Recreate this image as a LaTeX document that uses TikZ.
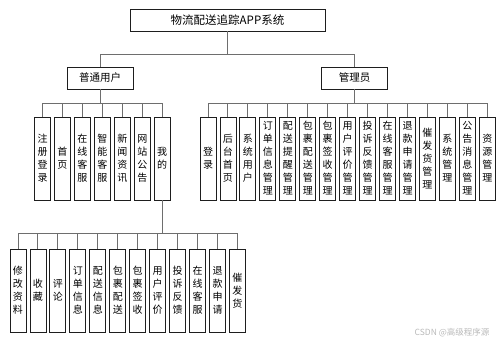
\documentclass[tikz,border=0pt]{standalone}
\usepackage{fontspec}
\setmainfont{Noto Sans CJK SC}
\usetikzlibrary{positioning}
\definecolor{linkgray}{RGB}{110,110,110}
\definecolor{boxline}{RGB}{30,30,30}

\begin{document}
\begin{tikzpicture}[
            x=1pt, y=1pt,
            node distance=3.95pt,
            rootbox/.style={draw=boxline, line width=0.9pt, minimum width=195pt, minimum height=22pt, inner sep=0pt, font=\fontsize{11.5}{13}\selectfont},
            rolebox/.style={draw=boxline, line width=0.9pt, minimum width=66pt, minimum height=22pt, inner sep=0pt, font=\fontsize{10.5}{13}\selectfont},
            funcbox/.style={draw=boxline, line width=0.9pt, outer sep=0pt, text width=11pt, inner xsep=2.5pt, inner ysep=2pt, minimum height=83pt, align=center, anchor=north, font=\fontsize{10}{13}\selectfont},
            link/.style={draw=linkgray, line width=1pt}
        ]
            \useasboundingbox (0,0) rectangle (502,-345);

            \node[rootbox] (app) at (227.5,-20) {物流配送追踪APP系统};
            \node[rolebox] (user) at (100,-78) {普通用户};
            \node[rolebox] (admin) at (354.5,-78) {管理员};

            \draw[link] (app.south) -- ++(0,-23) -| (user.north);
            \draw[link] (app.south) -- ++(0,-23) -| (admin.north);

            % user side
            \node[funcbox] (reg) at (42.5,-117) {注\\册\\登\\录};
            \node[funcbox, right=of reg] (home) {首\\页};
            \node[funcbox, right=of home] (chat) {在\\线\\客\\服};
            \node[funcbox, right=of chat] (aichat) {智\\能\\客\\服};
            \node[funcbox, right=of aichat] (news) {新\\闻\\资\\讯};
            \node[funcbox, right=of news] (notice) {网\\站\\公\\告};
            \node[funcbox, right=of notice] (mine) {我\\的};

            \foreach \k in {reg,home,chat,aichat,news,notice,mine}
                \draw[link] (user.south) -- ++(0,-14) -| (\k.north);

            % admin side
            \node[funcbox] (login) at (208,-117) {登\\录};
            \node[funcbox, right=of login] (dash) {后\\台\\首\\页};
            \node[funcbox, right=of dash] (sysuser) {系\\统\\用\\户};
            \node[funcbox, right=of sysuser] (ordermgr) {订\\单\\信\\息\\管\\理};
            \node[funcbox, right=of ordermgr] (remindmgr) {配\\送\\提\\醒\\管\\理};
            \node[funcbox, right=of remindmgr] (delivmgr) {包\\裹\\配\\送\\管\\理};
            \node[funcbox, right=of delivmgr] (signmgr) {包\\裹\\签\\收\\管\\理};
            \node[funcbox, right=of signmgr] (reviewmgr) {用\\户\\评\\价\\管\\理};
            \node[funcbox, right=of reviewmgr] (complmgr) {投\\诉\\反\\馈\\管\\理};
            \node[funcbox, right=of complmgr] (chatmgr) {在\\线\\客\\服\\管\\理};
            \node[funcbox, right=of chatmgr] (refundmgr) {退\\款\\申\\请\\管\\理};
            \node[funcbox, right=of refundmgr] (urgemgr) {催\\发\\货\\管\\理};
            \node[funcbox, right=of urgemgr] (sysmgr) {系\\统\\管\\理};
            \node[funcbox, right=of sysmgr] (noticemgr) {公\\告\\消\\息\\管\\理};
            \node[funcbox, right=of noticemgr] (resmgr) {资\\源\\管\\理};

            \foreach \k in {login,dash,sysuser,ordermgr,remindmgr,delivmgr,signmgr,reviewmgr,complmgr,chatmgr,refundmgr,urgemgr,sysmgr,noticemgr,resmgr}
                \draw[link] (admin.south) -- ++(0,-14) -| (\k.north);

            % under "mine"
            \node[funcbox] (profile) at (18,-249) {修\\改\\资\\料};
            \node[funcbox, right=of profile] (fav) {收\\藏};
            \node[funcbox, right=of fav] (comment) {评\\论};
            \node[funcbox, right=of comment] (orderinfo) {订\\单\\信\\息};
            \node[funcbox, right=of orderinfo] (delivinfo) {配\\送\\信\\息};
            \node[funcbox, right=of delivinfo] (pkgdeliv) {包\\裹\\配\\送};
            \node[funcbox, right=of pkgdeliv] (pkgsign) {包\\裹\\签\\收};
            \node[funcbox, right=of pkgsign] (review) {用\\户\\评\\价};
            \node[funcbox, right=of review] (complain) {投\\诉\\反\\馈};
            \node[funcbox, right=of complain] (service) {在\\线\\客\\服};
            \node[funcbox, right=of service] (refund) {退\\款\\申\\请};
            \node[funcbox, right=of refund] (urge) {催\\发\\货};

            \foreach \k in {profile,fav,comment,orderinfo,delivinfo,pkgdeliv,pkgsign,review,complain,service,refund,urge}
                \draw[link] (mine.south) -- ++(0,-33) -| (\k.north);

            \node[font=\fontsize{8.5}{10}\selectfont, text=gray!55] (mark) at (452,-333) {CSDN @高级程序源};
        \end{tikzpicture}
\end{document}
